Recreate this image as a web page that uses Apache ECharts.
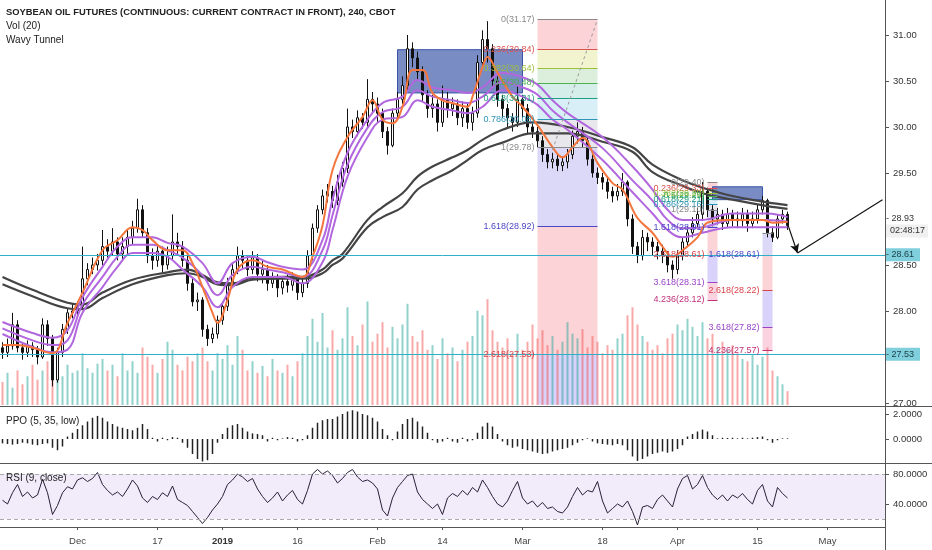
<!DOCTYPE html>
<html>
<head>
<meta charset="utf-8">
<script src="https://cdn.jsdelivr.net/npm/echarts@6/dist/echarts.min.js"></script>
<style>
html,body{margin:0;padding:0;background:#fff;}
#c{width:932px;height:550px;}
</style>
</head>
<body>
<div id="c"></div>
<script>
// 4h bars, [open, close, low, high]
var candles = [
[27.60,27.55,27.48,27.66],[27.55,27.62,27.50,27.70],[27.62,27.85,27.58,27.98],[27.85,27.60,27.55,27.90],[27.60,27.55,27.47,27.65],
[27.55,27.62,27.50,27.68],[27.62,27.58,27.50,27.66],[27.58,27.50,27.42,27.62],[27.50,27.85,27.48,27.92],[27.85,27.70,27.62,27.90],
[27.70,27.25,27.18,27.74],[27.25,27.55,27.22,27.60],[27.55,27.80,27.50,27.86],[27.80,27.98,27.75,28.03],[27.98,28.00,27.92,28.08],
[28.00,28.05,27.95,28.10],[28.05,28.35,28.02,28.70],[28.35,28.45,28.28,28.52],[28.45,28.50,28.40,28.58],[28.50,28.55,28.44,28.62],
[28.55,28.70,28.50,28.88],[28.70,28.65,28.58,28.78],[28.65,28.75,28.60,28.90],[28.75,28.62,28.55,28.80],[28.62,28.70,28.56,28.80],
[28.70,28.80,28.62,28.88],[28.80,28.90,28.72,28.98],[28.90,29.10,28.85,29.22],[29.10,28.85,28.80,29.15],[28.85,28.60,28.52,28.90],
[28.60,28.55,28.45,28.68],[28.55,28.65,28.48,28.72],[28.65,28.50,28.42,28.70],[28.50,28.60,28.45,28.70],[28.60,28.75,28.55,29.05],
[28.75,28.70,28.62,28.85],[28.70,28.55,28.48,28.76],[28.55,28.30,28.22,28.60],[28.30,28.10,28.05,28.35],[28.10,28.12,28.00,28.20],
[28.12,27.80,27.72,28.15],[27.80,27.70,27.62,27.85],[27.70,27.75,27.65,27.82],[27.75,27.90,27.70,27.95],[27.90,28.05,27.85,28.10],
[28.05,28.30,28.00,28.36],[28.30,28.45,28.25,28.52],[28.45,28.60,28.40,28.70],[28.60,28.55,28.46,28.66],[28.55,28.45,28.38,28.60],
[28.45,28.58,28.40,28.65],[28.58,28.40,28.32,28.62],[28.40,28.45,28.30,28.55],[28.45,28.30,28.22,28.50],[28.30,28.35,28.25,28.42],
[28.35,28.25,28.15,28.40],[28.25,28.32,28.18,28.38],[28.32,28.28,28.20,28.40],[28.28,28.35,28.22,28.42],[28.35,28.20,28.12,28.38],
[28.20,28.30,28.15,28.36],[28.30,28.60,28.25,28.66],[28.60,28.90,28.55,28.95],[28.90,29.10,28.85,29.15],[29.10,29.25,29.05,29.32],
[29.25,29.30,29.18,29.38],[29.30,29.20,29.12,29.36],[29.20,29.40,29.15,29.48],[29.40,29.55,29.35,29.62],[29.55,30.00,29.50,30.20],
[30.00,29.95,29.88,30.08],[29.95,30.10,29.90,30.18],[30.10,30.05,29.98,30.15],[30.05,30.30,30.00,30.52],[30.30,30.25,30.15,30.38],
[30.25,30.15,30.05,30.32],[30.15,29.95,29.88,30.20],[29.95,29.80,29.70,30.00],[29.80,30.15,29.78,30.20],[30.15,30.30,30.10,30.38],
[30.30,30.45,30.25,30.55],[30.45,30.85,30.40,31.00],[30.85,30.75,30.65,30.92],[30.75,30.60,30.52,30.82],[30.60,30.35,30.28,30.66],
[30.35,30.20,30.10,30.40],[30.20,30.25,30.10,30.35],[30.25,30.05,29.95,30.30],[30.05,30.30,30.00,30.45],[30.30,30.20,30.10,30.38],
[30.20,30.25,30.12,30.32],[30.25,30.10,30.02,30.30],[30.10,30.20,30.00,30.28],[30.20,30.05,29.98,30.25],[30.05,30.15,29.96,30.22],
[30.15,30.70,30.10,30.78],[30.70,30.95,30.65,31.05],[30.95,30.85,30.70,31.15],[30.85,30.50,30.42,30.90],[30.50,30.30,30.22,30.55],
[30.30,30.20,30.10,30.35],[30.20,30.10,30.00,30.25],[30.10,30.05,29.95,30.15],[30.05,30.30,30.00,30.45],[30.30,30.20,30.10,30.35],
[30.20,30.00,29.92,30.25],[30.00,29.95,29.88,30.05],[29.95,29.85,29.78,30.00],[29.85,29.70,29.62,29.90],[29.70,29.62,29.55,29.76],
[29.62,29.65,29.55,29.72],[29.65,29.58,29.52,29.70],[29.58,29.62,29.52,29.68],[29.62,29.70,29.55,29.76],[29.70,29.90,29.65,29.96],
[29.90,29.95,29.82,30.05],[29.95,29.85,29.78,30.00],[29.85,29.65,29.58,29.90],[29.65,29.50,29.45,29.70],[29.50,29.45,29.38,29.56],
[29.45,29.40,29.32,29.50],[29.40,29.30,29.22,29.45],[29.30,29.25,29.18,29.35],[29.25,29.30,29.20,29.38],[29.30,29.40,29.25,29.50],
[29.40,29.00,28.92,29.42],[29.00,28.70,28.62,29.05],[28.70,28.60,28.52,28.75],[28.60,28.80,28.55,28.88],[28.80,28.75,28.65,28.85],
[28.75,28.70,28.60,28.80],[28.70,28.65,28.56,28.75],[28.65,28.60,28.52,28.72],[28.60,28.50,28.42,28.65],[28.50,28.45,28.35,28.55],
[28.45,28.60,28.40,28.66],[28.60,28.75,28.55,28.80],[28.75,28.85,28.70,28.92],[28.85,28.95,28.80,29.02],[28.95,29.05,28.90,29.12],
[29.05,29.30,29.00,29.40],[29.30,29.10,29.02,29.34],[29.10,29.00,28.92,29.15],[29.00,29.05,28.94,29.12],[29.05,28.95,28.88,29.10],
[28.95,29.05,28.90,29.12],[29.05,29.00,28.92,29.10],[29.00,28.98,28.90,29.08],[28.98,29.05,28.92,29.12],[29.05,28.95,28.86,29.10],
[28.95,29.00,28.90,29.08],[29.00,29.10,28.95,29.16],[29.10,29.20,29.05,29.25],[29.20,28.85,28.80,29.22],[28.85,28.80,28.75,28.92],
[28.80,29.00,28.78,29.05],[29.00,29.05,28.95,29.10],[29.05,28.93,28.88,29.08]
];

var volumes = [
20,28,15,30,18,25,35,22,30,38,42,30,25,35,28,30,45,32,28,36,
40,30,35,25,45,30,38,28,50,42,35,28,40,55,48,35,30,42,38,45,
50,38,30,45,40,52,35,60,48,30,38,28,34,25,40,30,28,35,25,38,
45,60,75,55,80,50,65,48,58,85,60,52,70,90,55,62,72,50,68,58,
70,88,60,55,65,48,52,40,58,45,50,38,48,55,60,82,78,92,65,55,
50,58,45,62,48,55,70,58,65,52,60,48,55,72,62,58,66,50,60,55,
45,52,48,58,62,78,85,70,60,55,48,52,45,58,62,70,65,75,68,60,
72,58,62,50,55,48,52,45,40,38,44,35,42,50,30,25,18,12
];

var ppo = [
-0.35,-0.4,-0.45,-0.4,-0.3,-0.35,-0.45,-0.5,-0.4,-0.35,
-0.7,-0.9,-0.6,0.2,0.5,0.8,1.1,1.4,1.7,1.85,
1.7,1.4,1.2,1.0,0.9,0.8,0.7,0.9,1.2,0.8,
0.1,-0.2,0.1,-0.1,0.15,0.1,-0.3,-0.7,-1.2,-1.6,
-1.8,-1.7,-1.2,-0.3,0.4,0.9,1.1,1.2,0.9,0.6,
0.45,0.4,0.3,-0.2,0.1,-0.1,0.05,0.15,0.1,-0.2,
-0.1,0.3,0.9,1.3,1.5,1.6,1.6,1.8,2.0,2.2,
2.3,2.2,2.0,1.9,1.7,1.4,0.8,0.3,-0.1,0.6,
1.2,1.6,1.7,1.4,1.0,0.5,-0.1,-0.3,-0.2,0.1,
-0.2,-0.3,0.1,-0.2,-0.1,0.5,1.0,1.3,1.0,0.4,
-0.2,-0.5,-0.7,-0.6,-0.8,-0.9,-1.0,-1.1,-1.2,-1.15,
-1.0,-0.9,-0.8,-0.7,-0.5,-0.3,-0.1,0.05,-0.2,-0.35,
-0.4,-0.45,-0.5,-0.4,-0.5,-0.9,-1.4,-1.75,-1.6,-1.4,
-1.2,-1.1,-1.0,-1.1,-1.0,-0.8,-0.5,0.2,0.4,0.6,
0.75,0.6,0.3,0.05,0.1,0.08,0.1,0.05,0.1,0.05,
0.1,0.15,0.2,-0.1,-0.3,-0.1,0.05,0.05
];

var rsi = [
45,40,55,66,50,56,48,52,73,55,26,38,55,63,60,72,75,70,74,82,
66,58,52,56,50,60,72,64,48,42,50,46,55,50,64,46,42,38,30,22,
14,22,32,40,50,66,72,80,76,70,74,60,50,42,48,56,44,52,58,46,
40,58,80,86,80,84,78,68,74,82,86,76,70,72,68,60,32,24,48,62,
70,78,80,56,46,40,34,40,26,48,54,50,58,52,62,56,72,62,50,40,
36,44,58,70,48,40,44,36,42,34,36,30,28,36,50,62,52,58,56,70,
44,28,34,40,36,44,30,12,36,38,34,46,52,44,36,60,74,78,60,66,
78,62,52,46,52,44,52,48,54,46,40,58,66,44,36,62,54,48
];

// Wavy Tunnel, [bar index, price]
var emaFast = [[0,27.63],[3,27.63],[6,27.60],[10,27.54],[13,27.87],[16,28.20],[20,28.66],[23,28.77],[26,28.91],[28,28.88],
[30,28.77],[33,28.66],[36,28.66],[38,28.52],[40,28.26],[42,27.98],[43,27.87],[45,28.12],[47,28.45],[50,28.55],[53,28.48],
[56,28.45],[60,28.37],[62,28.59],[64,28.93],[66,29.53],[69,29.89],[72,30.11],[74,30.29],[76,30.08],[78,30.04],[80,30.22],
[82,30.62],[84,30.62],[86,30.37],[88,30.29],[90,30.26],[93,30.22],[94,30.33],[96,30.65],[97,30.76],[99,30.59],[102,30.33],
[104,30.22],[107,30.02],[110,29.78],[112,29.67],[114,29.78],[116,29.88],[119,29.61],[122,29.39],[124,29.32],[127,29.01],
[130,28.85],[132,28.70],[134,28.59],[136,28.66],[139,28.80],[141,28.96],[145,28.99],[152,28.99],[154,28.96],[157,28.97]];
var tunnelHigh = [[0,27.88],[6,27.76],[10,27.71],[13,27.79],[16,28.15],[20,28.48],[23,28.70],[26,28.80],[30,28.80],[33,28.74],
[36,28.70],[40,28.52],[43,28.30],[46,28.52],[50,28.59],[53,28.53],[56,28.48],[60,28.45],[64,28.77],[66,29.21],[69,29.72],
[73,30.08],[76,30.26],[80,30.33],[83,30.51],[86,30.43],[90,30.40],[93,30.37],[96,30.43],[100,30.59],[104,30.54],[107,30.46],
[110,30.29],[113,30.15],[120,29.89],[126,29.57],[130,29.32],[133,29.10],[136,28.99],[140,28.99],[146,29.06],[153,29.06],[157,29.02]];
var tunnelMid = [[0,27.81],[6,27.68],[10,27.63],[13,27.68],[16,28.07],[20,28.37],[23,28.59],[26,28.72],[30,28.72],[33,28.66],
[36,28.58],[40,28.39],[43,28.17],[46,28.39],[50,28.48],[53,28.45],[56,28.42],[60,28.37],[64,28.66],[66,29.04],[69,29.59],
[73,29.99],[76,30.16],[80,30.22],[83,30.40],[86,30.33],[90,30.29],[93,30.26],[96,30.33],[100,30.49],[104,30.43],[107,30.35],
[110,30.18],[113,30.05],[120,29.77],[126,29.42],[130,29.20],[133,28.99],[136,28.90],[140,28.91],[146,28.99],[153,28.99],[157,28.97]];
var tunnelLow = [[0,27.75],[6,27.61],[10,27.55],[13,27.58],[16,27.98],[20,28.26],[23,28.48],[26,28.63],[30,28.63],[33,28.59],
[36,28.45],[40,28.26],[43,28.04],[46,28.26],[50,28.37],[53,28.37],[56,28.37],[60,28.30],[64,28.53],[66,28.88],[69,29.46],
[73,29.89],[76,30.08],[80,30.11],[83,30.29],[86,30.22],[90,30.18],[93,30.15],[96,30.22],[100,30.40],[104,30.33],[107,30.24],
[110,30.08],[113,29.97],[120,29.64],[126,29.29],[130,29.06],[133,28.88],[136,28.80],[140,28.85],[146,28.91],[153,28.91],[157,28.91]];
var emaSlowA = [[0,28.37],[6,28.23],[13,28.09],[16,28.07],[20,28.20],[26,28.34],[33,28.42],[37,28.45],[40,28.39],[43,28.31],
[46,28.30],[50,28.36],[56,28.37],[60,28.37],[64,28.45],[66,28.55],[68,28.62],[73,28.99],[76,29.13],[80,29.28],[83,29.46],
[86,29.57],[90,29.67],[93,29.75],[96,29.86],[100,29.97],[106,30.05],[113,30.00],[120,29.89],[126,29.78],[130,29.59],
[136,29.42],[140,29.34],[146,29.25],[153,29.18],[157,29.15]];
var emaSlowB = [[0,28.29],[6,28.16],[13,28.03],[16,28.02],[20,28.14],[26,28.29],[33,28.39],[37,28.41],[40,28.37],[43,28.29],
[46,28.28],[50,28.34],[56,28.35],[60,28.35],[64,28.41],[66,28.50],[68,28.57],[73,28.91],[76,29.02],[80,29.13],[83,29.32],
[86,29.42],[90,29.53],[93,29.64],[96,29.75],[100,29.83],[106,29.93],[113,29.93],[120,29.84],[126,29.73],[130,29.51],
[136,29.36],[140,29.28],[146,29.21],[153,29.14],[157,29.11]];

// time axis
var nCats = 177;
var tickIdx = [15, 31, 44, 59, 75, 88, 104, 120, 135, 151, 165];
var tickText = ['Dec', '17', '2019', '16', 'Feb', '14', 'Mar', '18', 'Apr', '15', 'May'];
var priceTicks = [27, 27.5, 28, 28.5, 29.5, 30, 30.5, 31];

// drawings
var fibNames = ['0', '0.236', '0.382', '0.5', '0.618', '0.786', '1', '1.618', '2.618', '3.618', '4.236'];
var fibColors = ['#8a8a8a', '#d9534f', '#9cbf3a', '#4caf50', '#1f9e83', '#2f95b8', '#8a8a8a', '#4b47c6', '#d9434a', '#9c44c8', '#c2307a'];
var fibFills = ['', 'rgba(242,54,69,0.22)', 'rgba(200,210,60,0.25)', 'rgba(76,175,80,0.2)', 'rgba(8,153,129,0.17)',
  'rgba(0,150,200,0.15)', 'rgba(120,120,140,0.17)', 'rgba(90,80,220,0.22)', 'rgba(242,54,69,0.22)', 'rgba(110,80,235,0.26)', 'rgba(233,30,99,0.2)'];
var fib1Span = [107, 119];
var fib1Prices = [31.17, 30.84, 30.64, 30.48, 30.31, 30.08, 29.78, 28.92, 27.53];
var fib1Floor = 26.98;
var fib2Span = [141, 143];
var fib2Prices = [29.40, 29.33, 29.28, 29.25, 29.21, 29.16, 29.10, 28.91, 28.61, 28.31, 28.12];
var fib3Span = [152, 154];
var fib3Levels = [6, 7, 8, 9, 10];
var fib3Prices = [28.85, 28.61, 28.22, 27.82, 27.57];
var trendDash = [[110, 29.75], [119, 31.17]];
var boxes = [[[79, 30.84], [104, 30.37]], [[142, 29.35], [152, 29.21]]];
var hLevels = [28.61, 27.53];
var lastPrice = 28.93;
var countdown = '02:48:17';
var arrowDown = [[157, 28.95], [159, 28.63]];
var arrowUp = [[159, 28.63], [176, 29.21]];

var labelAt = {};
tickIdx.forEach(function (k, j) { labelAt[k] = tickText[j]; });
var cats = [];
for (var i = 0; i < nCats; i++) cats.push(String(i));

var volData = volumes.map(function (v, k) {
  var up = candles[k][1] >= candles[k][0];
  return { value: v, itemStyle: { color: up ? 'rgba(38,166,154,0.5)' : 'rgba(239,83,80,0.5)' } };
});

function fibLines(span, prices, levels, withLabel) {
  return prices.map(function (p, k) {
    var lv = levels[k];
    return [
      { coord: [span[0], p], lineStyle: { color: fibColors[lv], width: 1, type: 'solid' },
        label: { show: withLabel, position: 'start', distance: 3, formatter: fibNames[lv] + '(' + p.toFixed(2) + ')',
          color: fibColors[lv], fontSize: 9, fontFamily: 'Liberation Sans' } },
      { coord: [span[1], p] }
    ];
  });
}
function fibBands(span, prices, levels) {
  var out = [];
  for (var k = 0; k < prices.length - 1; k++) {
    out.push([{ coord: [span[0], prices[k]], itemStyle: { color: fibFills[levels[k + 1]] } }, { coord: [span[1], prices[k + 1]] }]);
  }
  return out;
}
var allLevels = [0, 1, 2, 3, 4, 5, 6, 7, 8, 9, 10];

var bandData = fibBands(fib1Span, fib1Prices, allLevels)
  .concat([[{ coord: [fib1Span[0], fib1Prices[8]], itemStyle: { color: fibFills[9] } }, { coord: [fib1Span[1], fib1Floor] }]])
  .concat(fibBands(fib2Span, fib2Prices, allLevels))
  .concat(fibBands(fib3Span, fib3Prices, fib3Levels));

var fib3Lines = fibLines(fib3Span, fib3Prices, fib3Levels, true);
fib3Lines[0][0].label.show = false;
var lineData = fibLines(fib1Span, fib1Prices, allLevels, true)
  .concat(fibLines(fib2Span, fib2Prices, allLevels, true))
  .concat(fib3Lines)
  .concat([[{ coord: trendDash[0], lineStyle: { color: '#9a9a9a', type: [3, 3], width: 1 } }, { coord: trendDash[1] }]]);

var tagData = hLevels.map(function (p) {
  return { yAxis: p, lineStyle: { color: '#2fb0c8', width: 1, type: 'solid', opacity: 1 },
    label: { show: true, position: 'end', distance: 0, formatter: '- ' + p.toFixed(2), backgroundColor: '#7fcfdc',
      color: '#1c3c44', fontSize: 9, fontFamily: 'Liberation Sans', padding: [2, 6, 2, 1] } };
});
tagData.push({ yAxis: lastPrice, lineStyle: { color: 'rgba(0,0,0,0)', width: 1, type: 'solid' },
  label: { show: true, position: 'end', distance: 0, formatter: '{a|- ' + lastPrice.toFixed(2) + '}\n{b|' + countdown + '}',
    rich: { a: { color: '#333', fontSize: 9, fontFamily: 'Liberation Sans', backgroundColor: '#fff', padding: [1, 14, 1, 1] },
            b: { color: '#333', fontSize: 9, fontFamily: 'Liberation Sans', backgroundColor: '#f0f0f0', padding: [2, 3, 2, 5] } } } });

var arrowData = [
  [{ coord: arrowDown[0], symbol: 'none' }, { coord: arrowDown[1], symbol: 'arrow', symbolSize: [7, 9] }],
  [{ coord: arrowUp[0], symbol: 'none' }, { coord: arrowUp[1], symbol: 'none' }]
];

var boxData = boxes.map(function (b) { return [{ coord: b[0] }, { coord: b[1] }]; });

function xAxisFor(g, show) {
  return {
    type: 'category', gridIndex: g, data: cats, boundaryGap: true,
    axisLine: { show: show, lineStyle: { color: '#555' } },
    axisTick: { show: show, length: 3, alignWithLabel: true, interval: function (idx) { return labelAt[idx] !== undefined; }, lineStyle: { color: '#555' } },
    axisLabel: {
      show: show, margin: 9, color: '#444', fontSize: 9.5, fontFamily: 'Liberation Sans',
      interval: function (idx) { return labelAt[idx] !== undefined; },
      formatter: function (v) { var t = labelAt[+v]; return t === '2019' ? '{b|2019}' : t; },
      rich: { b: { fontWeight: 'bold', fontSize: 9.5, color: '#333', fontFamily: 'Liberation Sans' } }
    },
    axisPointer: { show: false },
    splitLine: { show: false }
  };
}
function yAxisFor(g, min, max, ticks, dec, show) {
  return {
    type: 'value', gridIndex: g, position: 'right', min: min, max: max, scale: true,
    axisLine: { show: false }, splitLine: { show: false },
    axisTick: { show: show, length: 4, customValues: ticks, lineStyle: { color: '#555' } },
    axisLabel: { show: show, customValues: ticks, margin: 8, color: '#333', fontSize: 9.5, fontFamily: 'Liberation Sans',
      formatter: function (v) { return v.toFixed(dec); } }
  };
}

var txt = function (x, y, s, bold) {
  return { type: 'text', left: x, top: y, z: 50,
    style: { text: s, fill: '#222', font: (bold ? 'bold 9.4px' : '10px') + ' "Liberation Sans"' } };
};
var ln = function (x1, y1, x2, y2) {
  return { type: 'line', z: 40, shape: { x1: x1, y1: y1, x2: x2, y2: y2 }, style: { stroke: '#555', lineWidth: 1 } };
};

var option = {
  animation: false,
  backgroundColor: '#fff',
  grid: [
    { left: 0, right: 47, top: 0, height: 405 },
    { left: 0, right: 47, top: 290, height: 115 },
    { left: 0, right: 47, top: 407, height: 57 },
    { left: 0, right: 47, top: 464, height: 63 }
  ],
  xAxis: [xAxisFor(0, false), xAxisFor(1, false), xAxisFor(2, false), xAxisFor(3, true)],
  yAxis: [
    yAxisFor(0, 26.978, 31.38, priceTicks, 2, true),
    { type: 'value', gridIndex: 1, min: 0, max: 100, show: false, splitLine: { show: false } },
    yAxisFor(2, -2.0, 2.56, [0, 2], 4, true),
    yAxisFor(3, 9.33, 93.33, [40, 80], 4, true)
  ],
  series: [
    { name: 'fibBands', type: 'line', xAxisIndex: 0, yAxisIndex: 0, data: [], z: 1, silent: true,
      markArea: { silent: true, data: bandData } },
    { name: 'Vol', type: 'bar', xAxisIndex: 1, yAxisIndex: 1, data: volData, barWidth: 2, z: 2 },
    { name: 'price', type: 'candlestick', xAxisIndex: 0, yAxisIndex: 0, data: candles, barWidth: 3, z: 3,
      itemStyle: { color: '#ffffff', color0: '#111111', borderColor: '#111111', borderColor0: '#111111', borderWidth: 1 } },
    { name: 'emaSlowA', type: 'line', data: emaSlowA, smooth: 0.4, showSymbol: false, z: 4, lineStyle: { color: '#444', width: 2.2 } },
    { name: 'emaSlowB', type: 'line', data: emaSlowB, smooth: 0.4, showSymbol: false, z: 4, lineStyle: { color: '#444', width: 2.2 } },
    { name: 'tunnelHigh', type: 'line', data: tunnelHigh, smooth: 0.4, showSymbol: false, z: 4, lineStyle: { color: '#b267df', width: 2 } },
    { name: 'tunnelMid', type: 'line', data: tunnelMid, smooth: 0.4, showSymbol: false, z: 4, lineStyle: { color: '#b267df', width: 2 } },
    { name: 'tunnelLow', type: 'line', data: tunnelLow, smooth: 0.4, showSymbol: false, z: 4, lineStyle: { color: '#b267df', width: 2 } },
    { name: 'emaFast', type: 'line', data: emaFast, smooth: 0.4, showSymbol: false, z: 4, lineStyle: { color: '#f4763d', width: 2 } },
    { name: 'boxes', type: 'line', data: [], z: 6, silent: true,
      markArea: { silent: true, itemStyle: { color: 'rgba(40,70,160,0.62)', borderColor: '#3a55a8', borderWidth: 1 }, data: boxData },
      markLine: { silent: true, symbol: ['none', 'none'], lineStyle: { color: '#111', width: 1.2, type: 'solid' }, data: arrowData } },
    { name: 'fibLines', type: 'line', xAxisIndex: 0, yAxisIndex: 0, data: [], z: 7, silent: true,
      markLine: { silent: true, symbol: ['none', 'none'], data: lineData } },
    { name: 'levels', type: 'line', xAxisIndex: 0, yAxisIndex: 0, data: [], z: 8, silent: true,
      markLine: { silent: true, symbol: ['none', 'none'], data: tagData } },
    { name: 'PPO', type: 'bar', xAxisIndex: 2, yAxisIndex: 2, data: ppo, barWidth: 1.5, itemStyle: { color: '#222' } },
    { name: 'RSI', type: 'line', xAxisIndex: 3, yAxisIndex: 3, data: rsi, showSymbol: false, z: 3,
      lineStyle: { color: '#2b1f3a', width: 1 },
      markArea: { silent: true, itemStyle: { color: 'rgba(150,90,215,0.12)' }, data: [[{ yAxis: 20 }, { yAxis: 80 }]] },
      markLine: { silent: true, symbol: ['none', 'none'], label: { show: false },
        lineStyle: { color: '#aaa', type: [4, 3], width: 1 }, data: [{ yAxis: 80 }, { yAxis: 20 }] } }
  ],
  graphic: [
    ln(0, 406.5, 932, 406.5), ln(0, 463.5, 932, 463.5), ln(885.5, 0, 885.5, 550),
    txt(6, 8, 'SOYBEAN OIL FUTURES (CONTINUOUS: CURRENT CONTRACT IN FRONT), 240, CBOT', true),
    txt(6, 21, 'Vol (20)'),
    txt(6, 35, 'Wavy Tunnel'),
    txt(6, 416, 'PPO (5, 35, low)'),
    txt(6, 473, 'RSI (9, close)')
  ]
};

var chart = echarts.init(document.getElementById('c'));
chart.setOption(option);
</script>
</body>
</html>
